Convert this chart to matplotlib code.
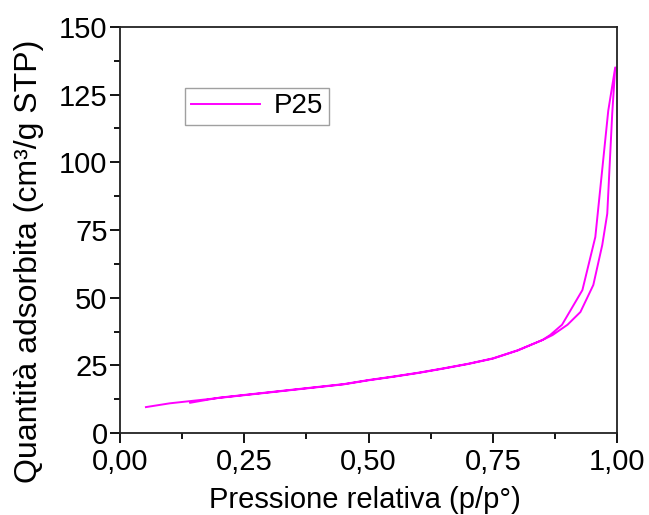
import matplotlib
matplotlib.use("Agg")
import matplotlib.pyplot as plt
import numpy as np

plt.rcParams['font.family'] = ['Liberation Sans', 'DejaVu Sans']

# adsorption branch (lower)
ads_x = [0.052, 0.10, 0.15, 0.20, 0.25, 0.30, 0.35, 0.40, 0.45, 0.50, 0.55, 0.60,
         0.65, 0.70, 0.75, 0.80, 0.85, 0.87, 0.90, 0.926, 0.952, 0.97, 0.98, 0.99, 0.996]
ads_y = [9.6, 11.0, 12.0, 13.0, 14.0, 15.0, 16.0, 17.0, 18.0, 19.5, 20.8, 22.2,
         23.8, 25.5, 27.5, 30.5, 34.4, 36.2, 40.0, 44.7, 54.7, 69.5, 81.0, 118.0, 135.0]
# desorption branch (upper)
des_x = [0.996, 0.982, 0.956, 0.93, 0.889, 0.865, 0.85, 0.80, 0.75, 0.70, 0.65,
         0.60, 0.55, 0.50, 0.45, 0.40, 0.35, 0.30, 0.25, 0.20, 0.141]
des_y = [135.0, 119.0, 72.4, 52.8, 40.0, 36.2, 34.4, 30.6, 27.6, 25.6, 23.9,
         22.3, 20.9, 19.6, 18.1, 17.1, 16.1, 15.1, 14.1, 13.1, 11.2]

xticks = [0, 0.25, 0.5, 0.75, 1.0]
xlabels = ['0,00', '0,25', '0,50', '0,75', '1,00']
yticks = [0, 25, 50, 75, 100, 125, 150]

fig = plt.figure(figsize=(6.49, 5.15), dpi=100)
ax = fig.add_axes([0.185, 0.159, 0.766, 0.789])

iso_x = ads_x + des_x
iso_y = ads_y + des_y
ax.plot(iso_x, iso_y, color='#ff00ff', lw=1.4, label='P25')

ax.set_xlim(0, 1.0)
ax.set_ylim(0, 150)
ax.set_xticks(xticks)
ax.set_xticklabels(xlabels)
ax.set_yticks(yticks)
ax.set_xticks([0.125, 0.375, 0.625, 0.875], minor=True)
ax.set_yticks([12.5, 37.5, 62.5, 87.5, 112.5, 137.5], minor=True)
ax.tick_params(which='major', direction='out', length=7, width=1.3, labelsize=21, pad=2)
ax.tick_params(axis='x', which='major', pad=3.5)
ax.tick_params(which='minor', direction='out', length=4, width=1.3)
for s in ax.spines.values():
    s.set_linewidth(1.3)
    s.set_color('#222222')

# axis titles placed as figure text to match the original layout
fig.text(365 / 649, 1 - 500 / 515, 'Pressione relativa (p/p°)', fontsize=21,
         ha='center', va='center')
fig.text(29 / 649, 1 - 261 / 515, 'Quantità adsorbita (cm³/g STP)', fontsize=23,
         ha='center', va='center', rotation=90)

leg = ax.legend(loc='upper left', bbox_to_anchor=(0.131, 0.85), fontsize=20,
                fancybox=False, edgecolor='#888888', handlelength=2.5,
                borderpad=0.2, handletextpad=0.5, borderaxespad=0)
leg.get_frame().set_linewidth(1.0)

fig.savefig('out.png', dpi=100)
